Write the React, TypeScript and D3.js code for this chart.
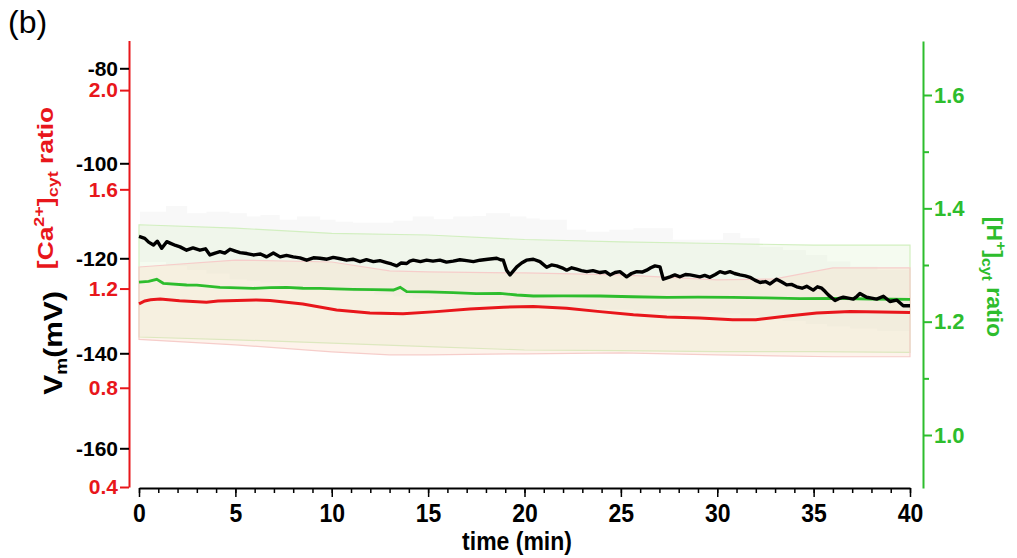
import React, {useEffect, useRef} from 'react';
import * as d3 from 'd3';

// membrane potential, mean trace: [time (min), Vm (mV)]
const vmMean: [number, number][] = [
    [0, -115.4], [0.3, -115.8], [0.5, -116.6], [0.75, -117.2], [0.95, -116.4], [1.18, -117.9],
    [1.44, -116.5], [1.61, -116.8], [1.9, -117.3], [2.13, -117.6], [2.47, -118.3], [2.8, -117.8],
    [3.16, -118.3], [3.45, -118.0], [3.68, -119.3], [3.95, -118.9], [4.2, -118.6], [4.45, -118.9],
    [4.72, -118.1], [5.0, -118.5], [5.24, -118.8], [5.6, -119.0], [5.93, -119.3], [6.3, -119.1],
    [6.62, -119.7], [6.97, -118.9], [7.32, -119.7], [7.65, -119.4], [8.0, -119.7], [8.35, -119.9],
    [8.7, -120.4], [9.05, -119.9], [9.39, -120.0], [9.75, -120.2], [10.08, -119.8], [10.45, -120.1],
    [10.77, -120.4], [11.1, -120.2], [11.47, -120.7], [11.8, -120.3], [12.16, -120.7], [12.5, -120.5],
    [12.85, -120.9], [13.1, -121.2], [13.37, -121.6], [13.6, -121.0], [13.89, -121.1], [14.05, -120.6],
    [14.23, -120.4], [14.6, -120.7], [14.92, -120.4], [15.25, -120.6], [15.61, -120.4], [15.95, -120.8],
    [16.3, -120.6], [16.65, -120.3], [17.0, -120.5], [17.35, -120.7], [17.69, -120.4], [18.1, -120.2],
    [18.56, -120.0], [18.75, -120.3], [18.9, -120.4], [19.07, -122.5], [19.25, -123.5], [19.6, -121.8],
    [19.85, -121.0], [20.1, -120.4], [20.46, -120.2], [20.8, -120.7], [21.15, -121.9], [21.4, -121.4],
    [21.67, -121.6], [21.95, -122.0], [22.19, -122.5], [22.45, -122.0], [22.7, -122.3], [22.95, -122.6],
    [23.23, -122.8], [23.55, -122.6], [23.92, -123.0], [24.2, -122.8], [24.44, -123.5], [24.7, -123.0],
    [24.95, -122.8], [25.3, -123.9], [25.55, -123.2], [25.82, -122.8], [26.1, -122.9], [26.34, -122.5],
    [26.55, -122.0], [26.77, -121.6], [27.03, -121.8], [27.2, -124.4], [27.55, -123.9], [27.8, -123.5],
    [28.07, -123.9], [28.35, -123.4], [28.59, -123.5], [28.85, -123.7], [29.1, -123.9], [29.35, -123.6],
    [29.62, -124.0], [29.9, -123.4], [30.14, -122.8], [30.4, -123.1], [30.66, -122.8], [30.9, -123.2],
    [31.18, -123.5], [31.45, -123.7], [31.7, -124.0], [31.95, -124.6], [32.22, -125.1], [32.5, -124.9],
    [32.74, -125.4], [33.08, -124.4], [33.35, -125.0], [33.6, -125.6], [33.85, -125.5], [34.12, -126.0],
    [34.4, -126.3], [34.64, -125.9], [34.98, -126.7], [35.2, -126.0], [35.42, -126.3], [35.6, -127.0],
    [35.76, -127.7], [36.11, -128.9], [36.3, -128.5], [36.54, -128.2], [36.8, -128.4], [37.06, -128.6],
    [37.25, -128.0], [37.4, -127.4], [37.75, -128.2], [38.0, -128.4], [38.27, -128.6], [38.62, -128.0],
    [38.96, -129.1], [39.31, -128.8], [39.65, -130.0], [40.0, -130.0],
];

// grey spread around Vm: [time, lower, upper] (mV)
const vmBand: [number, number, number][] = [
    [0.05, -120.8, -110.2], [1.4, -121.6, -109.0], [2.5, -122.4, -110.5], [3.5, -123.2, -110.2],
    [4.7, -124.4, -110.5], [5.6, -124.8, -111.2], [6.3, -125.1, -110.9], [7.3, -125.6, -111.9],
    [8.2, -126.0, -111.2], [9.4, -126.4, -111.9], [10.2, -126.8, -112.3], [11.1, -127.1, -112.5],
    [12.2, -127.6, -112.5], [13.2, -128.0, -112.1], [14.2, -128.4, -111.2], [15.3, -128.8, -111.8],
    [16.3, -129.0, -111.2], [17.3, -129.1, -111.1], [18.0, -129.2, -110.5], [18.9, -129.4, -110.5],
    [19.25, -130.0, -111.2], [20.1, -130.3, -111.6], [20.8, -130.4, -111.9], [22.2, -130.5, -114.0],
    [23.2, -130.6, -114.4], [24.4, -130.8, -114.0], [25.65, -131.0, -113.7], [26.9, -131.1, -113.7],
    [27.7, -131.2, -116.1], [29.1, -131.4, -116.1], [30.3, -131.6, -114.7], [31.2, -132.0, -115.8],
    [32.2, -132.5, -117.6], [33.4, -133.2, -118.3], [34.6, -133.8, -119.3], [35.7, -134.3, -120.7],
    [36.9, -134.8, -121.8], [38.3, -135.3, -122.5], [40.0, -135.7, -123.5],
];

// [Ca2+]cyt ratio mean
const caMean: [number, number][] = [
    [0, 1.138], [0.3, 1.150], [0.6, 1.155], [1.1, 1.158], [2.1, 1.151], [3.5, 1.145], [4.1, 1.150],
    [6.1, 1.154], [6.8, 1.152], [8.5, 1.138], [10.25, 1.114], [11.98, 1.101], [13.7, 1.098],
    [15.43, 1.107], [17.16, 1.118], [18.9, 1.125], [20.46, 1.1275], [22.19, 1.121], [23.92, 1.107],
    [25.65, 1.094], [27.38, 1.085], [29.1, 1.081], [30.8, 1.074], [32.0, 1.074], [33.43, 1.087],
    [35.16, 1.101], [36.9, 1.107], [38.5, 1.105], [40, 1.103],
];

const caBand: [number, number, number][] = [
    [0, 0.995, 1.287], [5, 0.973, 1.315], [10, 0.945, 1.307], [13, 0.933, 1.271], [15, 0.933, 1.267],
    [20, 0.937, 1.263], [25, 0.941, 1.255], [30, 0.933, 1.235], [33, 0.929, 1.239], [36, 0.925, 1.283],
    [40, 0.925, 1.283],
];

// [H+]cyt ratio mean
const phMean: [number, number][] = [
    [0, 1.2697], [0.5, 1.2712], [0.92, 1.2748], [1.26, 1.2677], [2.47, 1.2647], [3.0, 1.2645],
    [4.2, 1.2606], [4.72, 1.2600], [5.93, 1.2588], [6.8, 1.2600], [7.66, 1.2606], [8.5, 1.2590],
    [9.39, 1.2588], [10.2, 1.2580], [11.1, 1.2571], [12.2, 1.2565], [13.2, 1.2559], [13.55, 1.2606],
    [13.89, 1.2530], [15.0, 1.2525], [16.3, 1.2512], [17.5, 1.2495], [18.73, 1.2500], [19.6, 1.2471],
    [20.46, 1.2453], [22.0, 1.2455], [23.92, 1.2453], [25.6, 1.2440], [27.38, 1.2430], [29.0, 1.2432],
    [30.8, 1.2430], [32.5, 1.2420], [34.3, 1.2406], [36.0, 1.2412], [38.0, 1.2400], [40, 1.2394],
];

const phBand: [number, number, number][] = [
    [0, 1.173, 1.371], [5, 1.168, 1.365], [10, 1.162, 1.356], [15, 1.156, 1.353], [20, 1.150, 1.345],
    [25, 1.149, 1.341], [30, 1.147, 1.338], [35, 1.147, 1.335], [40, 1.146, 1.335],
];

const timeTicks = [0, 5, 10, 15, 20, 25, 30, 35, 40];
const timeMinor = d3.range(0, 41);
const vmTicks = [-80, -100, -120, -140, -160];
const caTicks = [2.0, 1.6, 1.2, 0.8, 0.4];
const phTicks = [1.0, 1.2, 1.4, 1.6];
const phMinor = [1.1, 1.3, 1.5];

const RED = '#e8161b';
const GREEN = '#2dbd2d';
const FONT = '"Liberation Sans", Arial, Helvetica, sans-serif';

const W = 1017, H = 558;

export default function App() {
    const ref = useRef<SVGSVGElement>(null);

    useEffect(() => {
        const svg = d3.select(ref.current);
        svg.selectAll('*').remove();

        // scales
        const x = d3.scaleLinear().domain([0, 40]).range([139, 910]);
        const yVm = d3.scaleLinear().domain([-168.15, -74.15]).range([487, 40.5]);
        const yCa = d3.scaleLinear().domain([0.4, 2.2]).range([487, 40.5]);
        const yPh = d3.scaleLinear().domain([0.9065, 1.6953]).range([488, 41]);

        const bands = svg.append('g').attr('id', 'bands');

        // grey Vm spread (stepped like the error bars)
        bands.append('path')
            .datum(vmBand)
            .attr('d', d3.area<[number, number, number]>()
                .x((d) => x(d[0]))
                .y0((d) => yVm(d[1]))
                .y1((d) => yVm(d[2]))
                .curve(d3.curveStepAfter))
            .attr('fill', '#cccccc')
            .attr('fill-opacity', 0.14)
            .attr('stroke', 'none');

        bands.append('path')
            .datum(phBand)
            .attr('d', d3.area<[number, number, number]>()
                .x((d) => x(d[0]))
                .y0((d) => yPh(d[1]))
                .y1((d) => yPh(d[2])))
            .attr('fill', '#d8efc4')
            .attr('fill-opacity', 0.25)
            .attr('stroke', '#d2efc0')
            .attr('stroke-width', 1.2);

        bands.append('path')
            .datum(caBand)
            .attr('d', d3.area<[number, number, number]>()
                .x((d) => x(d[0]))
                .y0((d) => yCa(d[1]))
                .y1((d) => yCa(d[2])))
            .attr('fill', '#fad8bd')
            .attr('fill-opacity', 0.3)
            .attr('stroke', '#f6cdca')
            .attr('stroke-width', 1.2);

        // mean traces
        const lines = svg.append('g').attr('id', 'lines').attr('fill', 'none');
        lines.append('path')
            .datum(caMean)
            .attr('d', d3.line<[number, number]>().x((d) => x(d[0])).y((d) => yCa(d[1])))
            .attr('stroke', RED)
            .attr('stroke-width', 3);
        lines.append('path')
            .datum(phMean)
            .attr('d', d3.line<[number, number]>().x((d) => x(d[0])).y((d) => yPh(d[1])))
            .attr('stroke', GREEN)
            .attr('stroke-width', 2.8);
        lines.append('path')
            .datum(vmMean)
            .attr('d', d3.line<[number, number]>().x((d) => x(d[0])).y((d) => yVm(d[1])))
            .attr('stroke', '#000')
            .attr('stroke-width', 3.4)
            .attr('stroke-linejoin', 'round');

        const boldText = (g) => g
            .attr('font-family', FONT)
            .attr('font-weight', 'bold');

        // x axis
        const xMinor = svg.append('g')
            .attr('transform', 'translate(0,488)')
            .call(d3.axisBottom(x).tickValues(timeMinor).tickSize(5).tickSizeOuter(0).tickFormat(() => ''));
        xMinor.select('.domain').remove();
        xMinor.selectAll('.tick line').attr('stroke', '#000').attr('stroke-width', 1.5);

        const xAxis = svg.append('g')
            .attr('transform', 'translate(0,488)')
            .call(d3.axisBottom(x).tickValues(timeTicks).tickSize(9).tickSizeOuter(0).tickPadding(6)
                .tickFormat((d) => String(d)))
            .call(boldText)
            .attr('font-size', 23);
        xAxis.select('.domain').attr('stroke', '#000').attr('stroke-width', 2);
        xAxis.selectAll('.tick line').attr('stroke', '#000').attr('stroke-width', 1.5);
        xAxis.selectAll('.tick text').attr('fill', '#000').attr('transform', 'scale(1,1.1)');

        // left axes: Vm (black) and Ca ratio (red) share one red line
        const caAxis = svg.append('g')
            .attr('transform', 'translate(129,0)')
            .call(d3.axisLeft(yCa).tickValues(caTicks).tickSize(9).tickSizeOuter(0).tickPadding(2)
                .tickFormat(d3.format('.1f')))
            .call(boldText)
            .attr('font-size', 21);
        caAxis.select('.domain').attr('stroke', RED).attr('stroke-width', 2);
        caAxis.selectAll('.tick line').attr('stroke', RED).attr('stroke-width', 2);
        caAxis.selectAll('.tick text').attr('fill', RED);

        const vmAxis = svg.append('g')
            .attr('transform', 'translate(129,0)')
            .call(d3.axisLeft(yVm).tickValues(vmTicks).tickSize(9).tickSizeOuter(0).tickPadding(2)
                .tickFormat((d) => String(d)))
            .call(boldText)
            .attr('font-size', 21);
        vmAxis.select('.domain').remove();
        vmAxis.selectAll('.tick line').attr('stroke', '#000').attr('stroke-width', 2);
        vmAxis.selectAll('.tick text').attr('fill', '#000');

        // right axis: H+ ratio
        const phMinorAxis = svg.append('g')
            .attr('transform', 'translate(923,0)')
            .call(d3.axisRight(yPh).tickValues(phMinor).tickSize(6).tickSizeOuter(0).tickFormat(() => ''));
        phMinorAxis.select('.domain').remove();
        phMinorAxis.selectAll('.tick line').attr('stroke', GREEN).attr('stroke-width', 2);

        const phAxis = svg.append('g')
            .attr('transform', 'translate(923,0)')
            .call(d3.axisRight(yPh).tickValues(phTicks).tickSize(9).tickSizeOuter(0).tickPadding(2)
                .tickFormat(d3.format('.1f')))
            .call(boldText)
            .attr('font-size', 22);
        phAxis.select('.domain').attr('stroke', GREEN).attr('stroke-width', 2);
        phAxis.selectAll('.tick line').attr('stroke', GREEN).attr('stroke-width', 2);
        phAxis.selectAll('.tick text').attr('fill', GREEN);

        // titles
        const titles = svg.append('g').call(boldText);

        const caTitle = titles.append('text')
            .attr('transform', 'translate(53,188) rotate(-90) scale(1.2,1)')
            .attr('text-anchor', 'middle')
            .attr('fill', RED)
            .attr('font-size', 22);
        caTitle.append('tspan').text('[Ca');
        caTitle.append('tspan').attr('font-size', 15).attr('dy', -9).text('2+');
        caTitle.append('tspan').attr('dy', 9).text(']');
        caTitle.append('tspan').attr('font-size', 15).attr('dy', 5).text('cyt');
        caTitle.append('tspan').attr('dy', -5).text(' ratio');

        const vmTitle = titles.append('text')
            .attr('transform', 'translate(62,343) rotate(-90) scale(1.2,1)')
            .attr('text-anchor', 'middle')
            .attr('fill', '#000')
            .attr('font-size', 25);
        vmTitle.append('tspan').text('V');
        vmTitle.append('tspan').attr('font-size', 16).attr('dy', 5).text('m');
        vmTitle.append('tspan').attr('dy', -5).text('(mV)');

        const phTitle = titles.append('text')
            .attr('transform', 'translate(987,277) rotate(90) scale(1.05,1)')
            .attr('text-anchor', 'middle')
            .attr('fill', GREEN)
            .attr('font-size', 22);
        phTitle.append('tspan').text('[H');
        phTitle.append('tspan').attr('font-size', 15).attr('dy', -9).text('+');
        phTitle.append('tspan').attr('dy', 9).text(']');
        phTitle.append('tspan').attr('font-size', 15).attr('dy', 5).text('cyt');
        phTitle.append('tspan').attr('dy', -5).text(' ratio');

        titles.append('text')
            .attr('transform', 'translate(517,550) scale(1,1.15)')
            .attr('text-anchor', 'middle')
            .attr('fill', '#000')
            .attr('font-size', 23)
            .text('time (min)');

        svg.append('text')
            .attr('x', 8)
            .attr('y', 33)
            .attr('font-family', FONT)
            .attr('font-size', 32)
            .attr('fill', '#000')
            .text('(b)');
    }, []);

    return (
        <svg
            ref={ref}
            width={W}
            height={H}
            style={{position: 'absolute', left: 0, top: 0, background: '#fff'}}
        />
    );
}
